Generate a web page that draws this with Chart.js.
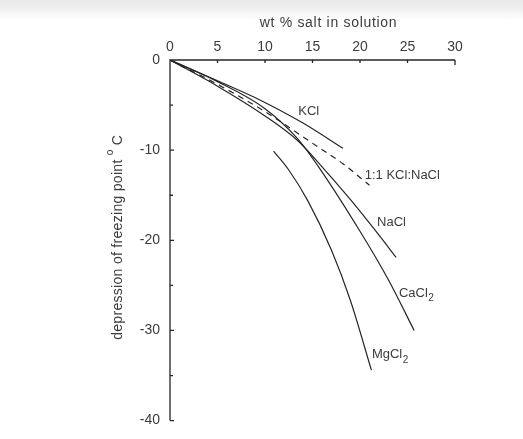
<!DOCTYPE html>
<html><head><meta charset="utf-8">
<script src="https://cdn.jsdelivr.net/npm/chart.js@4.4.1/dist/chart.umd.min.js"></script>
<style>
html,body{margin:0;padding:0;background:#fff;}
#wrap{position:relative;width:523px;height:439px;background:linear-gradient(to bottom,#e9e9e9 0px,#f1f1f1 10px,#fff 20px);}
canvas{display:block;}
</style>
</head><body>
<div id="wrap"><canvas id="c" width="523" height="439"></canvas></div>
<script>
// ---- data (wt % salt, freezing point depression in °C) ----
const kclWt   = [0, 5, 9.2, 14, 18.2];
const kclT    = [0, -2.3, -4.3, -7.0, -9.8];
const mixWt   = [0, 5, 9.8, 15.8, 18.2, 21];
const mixT    = [0, -2.7, -5.6, -9.8, -11.5, -13.9];
const naclWt  = [0, 5, 10, 13.4, 15.8, 19, 21.9, 23.8];
const naclT   = [0, -2.9, -6.2, -8.9, -11.6, -15.5, -19.3, -21.9];
const cacl2Wt = [0, 5, 10, 13.4, 15.8, 20, 23, 25.7];
const cacl2T  = [0, -2.4, -5.4, -8.7, -12.1, -19.0, -24.4, -30.0];
const mgcl2Wt = [10.9, 12.5, 14.5, 17, 19, 21.2];
const mgcl2T  = [-10.1, -12.2, -15.6, -21.1, -26.7, -34.4];

const seriesNames = ['KCl', '1:1 KCl:NaCl', 'NaCl', 'CaCl2', 'MgCl2'];
const xTicks = [0, 5, 10, 15, 20, 25, 30];
const yTicks = [0, -10, -20, -30, -40];
const xTitle = 'wt % salt in solution';
const yTitle = 'depression of freezing point';

// ---- presentation ----
const INK = '#262626';
const TXT = '#3c3c3c';
const FONT = '"Liberation Sans", Arial, sans-serif';

function pts(xs, ys) { return xs.map((x, i) => ({x: x, y: ys[i]})); }

// label anchors (data coords, left/middle of text)
const labelPlacement = [
  {name: 'KCl', x: 13.5, y: -5.7},
  {name: '1:1 KCl:NaCl', x: 20.5, y: -12.8},
  {name: 'NaCl', x: 21.8, y: -18.0},
  {name: 'CaCl2', x: 24.1, y: -25.9},
  {name: 'MgCl2', x: 21.25, y: -32.7}
];

const sets = [
  [kclWt, kclT, []],
  [mixWt, mixT, [6, 5]],
  [naclWt, naclT, []],
  [cacl2Wt, cacl2T, []],
  [mgcl2Wt, mgcl2T, []]
].map((s, i) => ({
  label: seriesNames[i],
  data: pts(s[0], s[1]),
  borderColor: INK,
  borderWidth: 1.2,
  borderDash: s[2],
  pointRadius: 0,
  fill: false,
  cubicInterpolationMode: 'monotone'
}));

function drawName(ctx, text, x, y) {
  const m = text.match(/^(.*?)(\d)$/);
  if (m && text !== '1:1 KCl:NaCl') {
    ctx.font = '13px ' + FONT;
    ctx.fillText(m[1], x, y);
    const w = ctx.measureText(m[1]).width;
    ctx.font = '10px ' + FONT;
    ctx.fillText(m[2], x + w + 0.5, y + 5);
  } else {
    ctx.font = '13px ' + FONT;
    ctx.fillText(text, x, y);
  }
}

const decor = {
  id: 'decor',
  afterDatasetsDraw(chart) {
    const ctx = chart.ctx;
    const xs = chart.scales.x, ys = chart.scales.y;
    const x0 = xs.getPixelForValue(0), x1 = xs.getPixelForValue(30);
    const y0 = ys.getPixelForValue(0), y1 = ys.getPixelForValue(-40);
    ctx.save();
    ctx.strokeStyle = INK;
    ctx.lineWidth = 1.3;
    // axes
    ctx.beginPath();
    ctx.moveTo(x0, y1); ctx.lineTo(x0, y0); ctx.lineTo(x1, y0);
    ctx.stroke();
    // top ticks (inward)
    ctx.beginPath();
    for (let v = 5; v <= 30; v += 5) {
      const px = xs.getPixelForValue(v);
      ctx.moveTo(px, y0); ctx.lineTo(px, y0 + (v === 30 ? 5 : 3));
    }
    // left ticks (inward)
    for (let v = -5; v >= -40; v -= 5) {
      const py = ys.getPixelForValue(v);
      ctx.moveTo(x0, py); ctx.lineTo(x0 + (v % 10 === 0 ? 4 : 3), py);
    }
    ctx.stroke();
    // curve labels
    ctx.fillStyle = TXT;
    ctx.textBaseline = 'middle';
    ctx.textAlign = 'left';
    labelPlacement.forEach(l => {
      drawName(ctx, l.name, xs.getPixelForValue(l.x), ys.getPixelForValue(l.y));
    });
    // x title
    ctx.textAlign = 'center';
    ctx.font = '14px ' + FONT;
    ctx.letterSpacing = '0.7px';
    ctx.fillText(xTitle, (x0 + x1) / 2 + 16, 23);
    // y title (rotated) with superscript degree
    ctx.letterSpacing = '0.3px';
    ctx.translate(118, (y0 + y1) / 2 - 3);
    ctx.rotate(-Math.PI / 2);
    ctx.textAlign = 'left';
    const main = yTitle + ' ';
    const wMain = ctx.measureText(main).width;
    const wO = 7, wC = ctx.measureText('C').width;
    const total = wMain + wO + 3 + wC;
    let sx = -total / 2;
    ctx.fillText(main, sx, 0);
    ctx.font = '10px ' + FONT;
    ctx.fillText('o', sx + wMain, -8);
    ctx.font = '14px ' + FONT;
    ctx.fillText('C', sx + wMain + wO + 3, 0);
    ctx.restore();
  }
};

new Chart(document.getElementById('c'), {
  type: 'line',
  data: {datasets: sets},
  options: {
    responsive: false,
    animation: false,
    events: [],
    layout: {padding: {left: 110, right: 68, top: 30, bottom: 8}},
    plugins: {legend: {display: false}, tooltip: {enabled: false}, title: {display: false}},
    scales: {
      x: {
        type: 'linear', position: 'top', min: 0, max: 30,
        afterBuildTicks: s => { s.ticks = xTicks.map(v => ({value: v})); },
        afterFit: s => { s.height = 30; },
        grid: {display: false, drawTicks: false},
        border: {display: false},
        ticks: {color: TXT, font: {size: 14, family: FONT}, padding: 4, maxRotation: 0}
      },
      y: {
        type: 'linear', min: -40, max: 0,
        afterBuildTicks: s => { s.ticks = yTicks.map(v => ({value: v})); },
        afterFit: s => { s.width = 60; },
        grid: {display: false, drawTicks: false},
        border: {display: false},
        ticks: {color: TXT, font: {size: 14, family: FONT}, padding: 10,
                callback: v => (v < 0 ? '-' + Math.abs(v) : String(v))}
      }
    }
  },
  plugins: [decor]
});
</script>
</body></html>
